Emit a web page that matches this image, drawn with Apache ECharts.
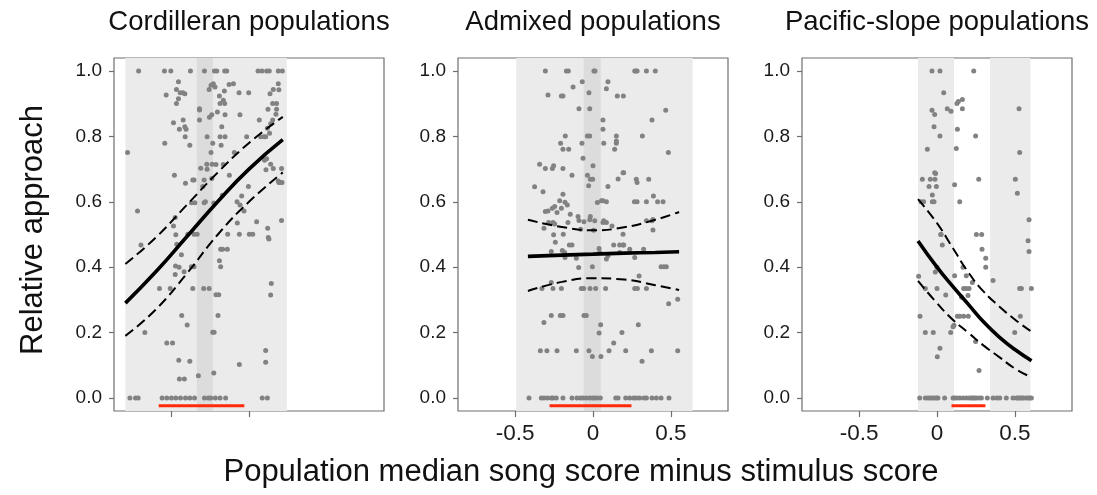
<!DOCTYPE html>
<html>
<head>
<meta charset="utf-8">
<script src="https://cdn.jsdelivr.net/npm/echarts@6/dist/echarts.min.js"></script>
<style>
html, body { margin: 0; padding: 0; background: #fff; }
#chart { width: 1097px; height: 495px; }
</style>
</head>
<body>
<div id="chart"></div>
<script>
// Panel titles and axis text
const panelTitles = ['Cordilleran populations', 'Admixed populations', 'Pacific-slope populations'];
const yAxisTitle = 'Relative approach';
const xAxisTitle = 'Population median song score minus stimulus score';
const yTicks = [0, 0.2, 0.4, 0.6, 0.8, 1.0];
const xTicksLabelled = [-0.5, 0, 0.5];
const xTicksCordilleran = [-0.5, 0];

// Trial-level responses: [score difference, relative approach]
const cordPoints = [
  [-0.709,1],[-0.543,1],[-0.502,1],[-0.376,1],[-0.286,1],[-0.222,1],[-0.207,1],[-0.156,1],[-0.143,1],[0.058,1],[0.083,1],[0.113,1],[0.13,1],[0.188,1],[0.214,1],
  [-0.453,0.967],[-0.229,0.961],[0.188,0.961],[-0.128,0.959],[-0.1,0.961],[-0.244,0.957],
  [-0.532,0.927],[-0.466,0.944],[-0.442,0.934],[-0.425,0.934],[-0.412,0.931],[-0.453,0.915],[-0.466,0.901],
  [-0.256,0.944],[-0.218,0.951],[-0.158,0.939],[-0.064,0.934],[-0.002,0.934],[0.156,0.944],[0.135,0.931],[0.192,0.943],
  [-0.318,0.885],[-0.318,0.881],[-0.19,0.924],[-0.165,0.911],[-0.186,0.901],[-0.156,0.901],[-0.203,0.875],[-0.239,0.866],[-0.254,0.859],[-0.318,0.85],[-0.175,0.83],[-0.154,0.866],[-0.058,0.866],
  [-0.485,0.842],[-0.423,0.85],[-0.447,0.822],[-0.412,0.83],[-0.404,0.822],[-0.41,0.799],[-0.38,0.773],[-0.541,0.779],
  [0.066,0.85],[0.152,0.85],[0.139,0.839],[0.118,0.825],[0.096,0.799],[0.075,0.799],[0.107,0.799],[0.132,0.81],[0.173,0.868],[0.177,0.883],[0.122,0.883],[0.152,0.901],[0.177,0.901],
  [-0.269,0.799],[-0.186,0.799],[-0.179,0.773],[-0.154,0.799],[-0.094,0.751],[-0.015,0.799],[-0.233,0.779],[-0.244,0.751],[-0.31,0.703],[-0.271,0.715],[-0.269,0.7],[-0.237,0.715],[-0.239,0.671],[-0.288,0.667],[-0.297,0.647],[-0.212,0.714],[-0.165,0.714],[-0.126,0.681],
  [-0.479,0.681],[-0.353,0.667],[-0.361,0.667],[-0.408,0.657],
  [-0.37,0.597],[-0.348,0.597],[-0.288,0.597],[-0.28,0.6],[-0.226,0.596],[-0.171,0.62],
  [-0.047,0.618],[-0.004,0.647],[-0.058,0.59],[-0.077,0.6],[0.1,0.727],[0.113,0.732],[0.139,0.715],[0.156,0.702],[0.188,0.664],[0.201,0.659],[0.192,0.659],[0.209,0.702],[0.212,0.659],[0.109,0.698],
  [-0.78,0.751],[-0.716,0.572],[-0.694,0.468],[-0.669,0.2],
  [-0.474,0.552],[-0.485,0.526],[-0.47,0.499],[-0.464,0.47],[-0.472,0.404],[-0.474,0.378],
  [-0.353,0.501],[-0.393,0.501],[-0.333,0.501],[-0.37,0.401],[-0.353,0.401],[-0.361,0.335],[-0.506,0.335],[-0.575,0.335],[-0.434,0.438],[-0.449,0.4],[-0.417,0.386],
  [-0.137,0.501],[-0.182,0.455],[-0.19,0.42],[-0.182,0.401],[-0.169,0.455],[-0.139,0.455],[-0.212,0.316],[-0.194,0.316],[-0.199,0.252],[-0.233,0.201],[-0.224,0.201],
  [-0.291,0.335],[-0.256,0.335],[-0.062,0.501],[-0.075,0.535],[-0.032,0.572],[0.002,0.501],[0.024,0.501],[0.049,0.539],[0.12,0.519],[0.124,0.491],[0.128,0.486],[0.209,0.543],
  [0.143,0.35],[0.139,0.315],[0.107,0.145],[0.107,0.109],[-0.062,0.102],[-0.226,0.076],[-0.325,0.068],
  [-0.528,0.168],[-0.491,0.168],[-0.451,0.115],[-0.447,0.058],[-0.415,0.058],[-0.432,0.252],[-0.397,0.223],[-0.38,0.112],
  [-0.765,0],[-0.729,0],[-0.712,0],[-0.558,0],[-0.528,0],[-0.498,0],[-0.47,0],[-0.44,0],[-0.408,0],[-0.38,0],[-0.35,0],[-0.286,0],[-0.261,0],[-0.246,0],[-0.216,0],[-0.186,0],[-0.15,0],[0.085,0],[0.118,0]
];

const admixPoints = [
  [-0.306,1],[-0.171,1],[-0.158,1],[0.006,1],[0.013,1],[0.268,1],[0.276,1],[0.283,1],[0.343,1],[0.4,1],
  [-0.069,0.967],[0.096,0.967],[-0.128,0.951],[-0.026,0.934],[0.086,0.946],[-0.289,0.927],[-0.203,0.924],[-0.193,0.924],[0.156,0.924],[0.195,0.924],[-0.09,0.885],[-0.021,0.885],[0.467,0.88],[0.379,0.85],[0.484,0.751],
  [-0.178,0.801],[-0.208,0.779],[-0.193,0.761],[-0.156,0.761],[-0.071,0.779],[-0.036,0.801],[-0.021,0.801],[0.064,0.85],[0.064,0.822],[0.15,0.801],[0.15,0.786],[0.15,0.779],[0.069,0.779],[0.139,0.761],[0.197,0.689],[0.317,0.801],
  [-0.343,0.715],[-0.306,0.702],[-0.261,0.702],[-0.253,0.71],[-0.193,0.702],[-0.135,0.681],[-0.064,0.733],[-0.036,0.681],[-0.017,0.669],[-0.002,0.669],[0,0.71],[-0.028,0.649],[0.096,0.647],[0.086,0.6],[0.161,0.67],[0.193,0.689],[0.278,0.669],[0.283,0.659],[0.358,0.669],[0.415,0.6],[0.388,0.618],[0.283,0.6],[0.266,0.6],[0.343,0.6],[0.379,0.542],
  [-0.375,0.646],[-0.321,0.631],[-0.306,0.57],[-0.289,0.572],[-0.261,0.58],[-0.246,0.586],[-0.231,0.567],[-0.214,0.603],[-0.203,0.58],[-0.165,0.59],[-0.161,0.537],[-0.193,0.623],[-0.18,0.599],
  [-0.315,0.519],[-0.285,0.537],[-0.257,0.537],[-0.253,0.499],[-0.242,0.476],[-0.191,0.501],[-0.182,0.445],[-0.096,0.555],[-0.09,0.543],[-0.021,0.545],[-0.017,0.555],[0.011,0.542],[0.004,0.513],[0.028,0.598],[0.054,0.603],[0.064,0.603],[-0.058,0.539],[-0.079,0.516],[-0.146,0.562],[-0.246,0.532],
  [0.064,0.537],[0.086,0.537],[0.069,0.542],[0.122,0.526],[0.133,0.468],[0.171,0.468],[0.193,0.468],[0.236,0.455],[0.325,0.455],[0.343,0.542],[0.45,0.6],[0.385,0.514],[0.385,0.546],[0.193,0.501],
  [-0.268,0.448],[-0.197,0.451],[-0.18,0.43],[-0.152,0.468],[-0.135,0.468],[-0.107,0.427],[-0.092,0.399],[-0.004,0.401],[0.043,0.445],[0.039,0.457],[0.086,0.425],[0.096,0.435],[0.171,0.445],[0.197,0.468],[0.268,0.43],[0.296,0.373],[0.471,0.401],[0.437,0.401],[0.455,0.401],
  [-0.328,0.335],[-0.257,0.335],[-0.203,0.335],[-0.075,0.335],[-0.06,0.335],[-0.019,0.335],[0.017,0.335],[0.081,0.335],[0.268,0.335],[0.285,0.335],[0.343,0.335],[-0.268,0.353],
  [-0.315,0.231],[-0.268,0.252],[-0.21,0.252],[-0.193,0.252],[-0.058,0.252],[-0.043,0.252],[0.039,0.199],[0.049,0.224],[0.186,0.2],[0.291,0.224],[0.315,0.112],[0.375,0.144],
  [-0.338,0.144],[-0.296,0.144],[-0.231,0.144],[-0.107,0.144],[-0.026,0.144],[-0.004,0.127],[0.051,0.127],[0.103,0.144],[0.133,0.168],[0.21,0.144],[0.544,0.144],[0.486,0.288],[0.544,0.302],
  [-0.411,0],[-0.332,0],[-0.315,0],[-0.293,0],[-0.268,0],[-0.257,0],[-0.236,0],[-0.193,0],[-0.135,0],[-0.103,0],[-0.081,0],[-0.064,0],[-0.043,0],[-0.021,0],[-0.004,0],[0.011,0],[0.026,0],[0.047,0],[0.146,0],[0.161,0],[0.21,0],[0.236,0],[0.261,0],[0.278,0],[0.3,0],[0.328,0],[0.343,0],[0.379,0],[0.407,0],[0.437,0],[0.488,0]
];

const pacificPoints = [
  [-0.032,1],[0.019,1],[0.236,1],
  [0.043,0.934],[0.066,0.885],[0.09,0.877],[0.128,0.901],[0.137,0.907],[0.163,0.913],[0.163,0.885],[-0.032,0.88],[-0.015,0.867],[0.527,0.885],
  [-0.019,0.83],[0.019,0.801],[0.131,0.822],[0.248,0.801],[0.124,0.763],[-0.062,0.761],[0.531,0.751],
  [-0.094,0.669],[-0.043,0.669],[-0.013,0.669],[-0.015,0.689],[-0.009,0.687],[-0.051,0.647],[-0.004,0.647],[-0.03,0.621],[-0.019,0.6],[-0.03,0.6],[0.113,0.652],[0.268,0.669],[0.503,0.669],[0.516,0.626],
  [-0.086,0.6],[-0.103,0.6],[0.146,0.6],[0.253,0.5],[0.287,0.5],[0.289,0.455],[0.188,0.374],[0.167,0.4],[0.227,0.353],[0.313,0.427],[0.313,0.4],[0.36,0.359],[0.024,0.5],[0.026,0.5],[0.034,0.468],[0,0.4],[-0.011,0.385],[0.113,0.374],[0.056,0.315],[0,0.335],[-0.118,0.372],[-0.075,0.335],
  [0.171,0.335],[0.188,0.335],[0.199,0.313],[0.206,0.335],[0.158,0.308],[0.131,0.25],[0.146,0.25],[0.171,0.25],[0.201,0.25],[0.109,0.222],[0.103,0.218],[0.088,0.2],
  [-0.109,0.25],[-0.075,0.2],[-0.024,0.2],[0.002,0.126],[0.019,0.152],[0.248,0.173],[0.27,0.084],[0.499,0.2],[0.535,0.25],[0.531,0.335],[0.542,0.335],[0.606,0.335],
  [0.585,0.481],[0.591,0.448],[0.591,0.545],
  [-0.111,0],[-0.075,0],[-0.058,0],[-0.043,0],[-0.03,0],[-0.015,0],[-0.004,0],[0.006,0],[0.049,0],[0.103,0],[0.113,0],[0.128,0],[0.146,0],[0.167,0],[0.188,0],[0.206,0],[0.221,0],[0.231,0],[0.242,0],[0.253,0],[0.27,0],[0.285,0],[0.323,0],[0.36,0],[0.385,0],[0.403,0],[0.445,0],[0.488,0],[0.51,0],[0.52,0],[0.531,0],[0.542,0],[0.552,0],[0.57,0],[0.585,0],[0.595,0],[0.606,0]
];

// Fitted response curves with confidence limits: [score difference, relative approach]
const cordFit   = [[-0.794,0.29],[-0.6,0.385],[-0.4,0.493],[-0.2,0.601],[0,0.70],[0.217,0.79]];
const cordUpper = [[-0.794,0.41],[-0.6,0.49],[-0.4,0.59],[-0.2,0.69],[0,0.78],[0.217,0.86]];
const cordLower = [[-0.794,0.19],[-0.6,0.27],[-0.4,0.38],[-0.2,0.50],[0,0.60],[0.217,0.69]];

const admixFit   = [[-0.418,0.433],[-0.2,0.437],[0,0.440],[0.2,0.443],[0.4,0.445],[0.553,0.447]];
const admixUpper = [[-0.418,0.545],[-0.2,0.523],[0,0.513],[0.2,0.522],[0.4,0.545],[0.553,0.569]];
const admixLower = [[-0.418,0.327],[-0.2,0.355],[0,0.366],[0.2,0.362],[0.4,0.345],[0.553,0.33]];

const pacificFit   = [[-0.122,0.48],[0,0.40],[0.1,0.342],[0.2,0.287],[0.3,0.232],[0.4,0.186],[0.5,0.148],[0.607,0.114]];
const pacificUpper = [[-0.122,0.608],[0,0.535],[0.1,0.46],[0.2,0.385],[0.3,0.325],[0.4,0.28],[0.5,0.24],[0.6,0.205]];
const pacificLower = [[-0.122,0.358],[0,0.29],[0.1,0.24],[0.2,0.2],[0.3,0.16],[0.4,0.125],[0.5,0.09],[0.607,0.063]];

// Sampled stimulus ranges (light bands), core range (dark band), population song range (red bar)
const cordBands    = [[-0.794, 0.243]];
const admixBands   = [[-0.493, 0.640]];
const pacificBands = [[-0.122, 0.109], [0.341, 0.600]];
const cordCore     = [[-0.335, -0.232]];
const admixCore    = [[-0.06, 0.05]];
const pacificCore  = [];
const cordSongRange    = [-0.58, -0.03];
const admixSongRange   = [-0.279, 0.247];
const pacificSongRange = [0.093, 0.311];
const songRangeLevel = -0.024;

const FONT = '"Liberation Sans", Arial, Helvetica, sans-serif';
const X_MIN = -0.867, X_MAX = 0.867;
const Y_MIN = -0.04, Y_MAX = 1.04;

const panels = [
  { points: cordPoints, fit: cordFit, upper: cordUpper, lower: cordLower, bands: cordBands, core: cordCore, song: cordSongRange, ticks: xTicksCordilleran, labels: false },
  { points: admixPoints, fit: admixFit, upper: admixUpper, lower: admixLower, bands: admixBands, core: admixCore, song: admixSongRange, ticks: xTicksLabelled, labels: true },
  { points: pacificPoints, fit: pacificFit, upper: pacificUpper, lower: pacificLower, bands: pacificBands, core: pacificCore, song: pacificSongRange, ticks: xTicksLabelled, labels: true }
];
const gridLefts = [114, 458, 802];
const GRID_W = 270, GRID_TOP = 58, GRID_H = 353;

const grids = [], xAxes = [], yAxes = [], series = [], graphics = [];

panels.forEach((p, i) => {
  grids.push({ left: gridLefts[i], top: GRID_TOP, width: GRID_W, height: GRID_H,
    show: true, borderColor: '#6e6e6e', borderWidth: 1.2, backgroundColor: 'transparent' });

  xAxes.push({
    gridIndex: i, type: 'value', min: X_MIN, max: X_MAX, position: 'bottom',
    axisLine: { show: false, onZero: false },
    splitLine: { show: false },
    axisTick: { show: true, customValues: p.ticks, length: 6, lineStyle: { color: '#6e6e6e', width: 1.2 } },
    axisLabel: { show: p.labels, customValues: p.ticks, margin: 11, fontSize: 22.5, color: '#1a1a1a', fontFamily: FONT,
      formatter: v => (v === 0 ? '0' : String(v)) }
  });

  yAxes.push({
    gridIndex: i, type: 'value', min: Y_MIN, max: Y_MAX, position: 'left',
    axisLine: { show: false, onZero: false },
    splitLine: { show: false },
    axisTick: { show: true, customValues: yTicks, length: 5, lineStyle: { color: '#6e6e6e', width: 1.2 } },
    axisLabel: { show: true, customValues: yTicks, margin: 12, fontSize: 19, color: '#1a1a1a', fontFamily: FONT,
      formatter: v => v.toFixed(1) }
  });

  // shaded stimulus ranges
  const areaData = p.bands.map(b => [{ xAxis: b[0], itemStyle: { color: '#ebebeb' } }, { xAxis: b[1] }])
    .concat(p.core.map(b => [{ xAxis: b[0], itemStyle: { color: '#dcdcdc' } }, { xAxis: b[1] }]));

  series.push({
    type: 'scatter', xAxisIndex: i, yAxisIndex: i,
    data: p.points, symbolSize: 5, silent: true,
    itemStyle: { color: '#828282', opacity: 1 },
    markArea: { silent: true, data: areaData, itemStyle: { opacity: 1 } },
    z: 2
  });

  series.push({
    type: 'line', xAxisIndex: i, yAxisIndex: i, silent: true,
    data: [[p.song[0], songRangeLevel], [p.song[1], songRangeLevel]],
    showSymbol: false, lineStyle: { color: '#ff2a0a', width: 3 }, z: 3
  });

  [p.upper, p.lower].forEach(d => series.push({
    type: 'line', xAxisIndex: i, yAxisIndex: i, silent: true, data: d, smooth: true,
    showSymbol: false, lineStyle: { color: '#000', width: 2, type: [10, 5] }, z: 4
  }));

  series.push({
    type: 'line', xAxisIndex: i, yAxisIndex: i, silent: true, data: p.fit, smooth: true,
    showSymbol: false, lineStyle: { color: '#000', width: 3.6 }, z: 5
  });

  graphics.push({
    type: 'text', x: gridLefts[i] + GRID_W / 2, y: 22,
    style: { text: panelTitles[i], font: '27.5px ' + FONT, fill: '#111', textAlign: 'center', textVerticalAlign: 'middle' }
  });
});

graphics.push({
  type: 'text', x: 33, y: 230, rotation: Math.PI / 2,
  style: { text: yAxisTitle, font: '31px ' + FONT, fill: '#111', textAlign: 'center', textVerticalAlign: 'middle' }
});
graphics.push({
  type: 'text', x: 581, y: 472,
  style: { text: xAxisTitle, font: '31px ' + FONT, fill: '#111', textAlign: 'center', textVerticalAlign: 'middle' }
});

const chart = echarts.init(document.getElementById('chart'), null, { renderer: 'canvas' });
chart.setOption({
  animation: false,
  backgroundColor: '#ffffff',
  grid: grids, xAxis: xAxes, yAxis: yAxes, series: series, graphic: graphics
});
</script>
</body>
</html>
